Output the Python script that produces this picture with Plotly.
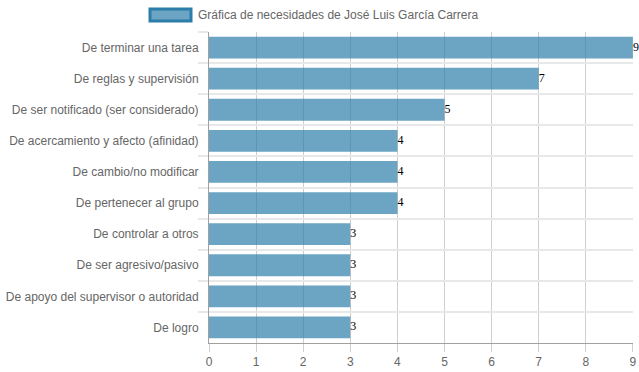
import plotly.graph_objects as go

categories = [
    "De terminar una tarea",
    "De reglas y supervisión",
    "De ser notificado (ser considerado)",
    "De acercamiento y afecto (afinidad)",
    "De cambio/no modificar",
    "De pertenecer al grupo",
    "De controlar a otros",
    "De ser agresivo/pasivo",
    "De apoyo del supervisor o autoridad",
    "De logro",
]
values = [9, 7, 5, 4, 4, 4, 3, 3, 3, 3]
x_ticks = [0, 1, 2, 3, 4, 5, 6, 7, 8, 9]
series_name = "Gráfica de necesidades de José Luis García Carrera"

bar_fill = "rgba(45,125,170,0.7)"
bar_line = "rgba(45,125,170,1)"

fig = go.Figure()
fig.add_trace(go.Bar(
    x=values, y=categories, orientation="h",
    marker=dict(color=bar_fill, line=dict(width=0)),
    name=series_name, showlegend=False, hoverinfo="x+y",
))
fig.add_trace(go.Scatter(
    x=values, y=categories, mode="text",
    text=[str(v) for v in values], textposition="middle right",
    textfont=dict(family="Liberation Serif, Times New Roman, serif", size=12, color="#000"),
    cliponaxis=False, showlegend=False, hoverinfo="skip",
))

# legend drawn as a wide box + text (Chart.js style)
fig.add_shape(type="rect", xref="paper", yref="paper",
              x0=(150 - 209) / 424, x1=(191 - 209) / 424,
              y0=(343 - 21) / 311, y1=(343 - 9) / 311,
              fillcolor=bar_fill, line=dict(color=bar_line, width=3))
fig.add_annotation(xref="paper", yref="paper", x=(196 - 209) / 424, y=(343 - 15) / 311,
                   text=series_name, showarrow=False, xanchor="left", yanchor="middle",
                   font=dict(family="Liberation Sans, Arial, sans-serif", size=12, color="#666"))

fig.update_layout(
    width=639, height=372,
    margin=dict(l=209, r=6, t=32, b=29, autoexpand=False),
    paper_bgcolor="white", plot_bgcolor="white",
    bargap=0.3,
    font=dict(family="Liberation Sans, Arial, sans-serif", size=12, color="#666"),
    xaxis=dict(range=[0, 9.002], tickvals=x_ticks, showgrid=True, gridcolor="#cfcfcf", gridwidth=1,
               zeroline=False, showline=True, linecolor="#a0a0a0", linewidth=1,
               ticks="outside", ticklen=8, tickcolor="#cfcfcf", tickfont=dict(color="#666", size=12),
               ticklabeloverflow="allow", automargin=False, fixedrange=True),
    yaxis=dict(type="category", autorange="reversed", tickson="boundaries",
               showgrid=True, gridcolor="#e8e8e8", gridwidth=2,
               showline=True, linecolor="#a0a0a0", linewidth=1,
               ticks="outside", ticklen=10, tickcolor="#e8e8e8", tickwidth=2,
               ticklabelstandoff=7,
               tickfont=dict(color="#666", size=12), automargin=False, fixedrange=True),
)

fig.write_html("out.html", config={"displayModeBar": False},
               post_script="document.body.style.margin='0';document.body.style.overflow='hidden';")
